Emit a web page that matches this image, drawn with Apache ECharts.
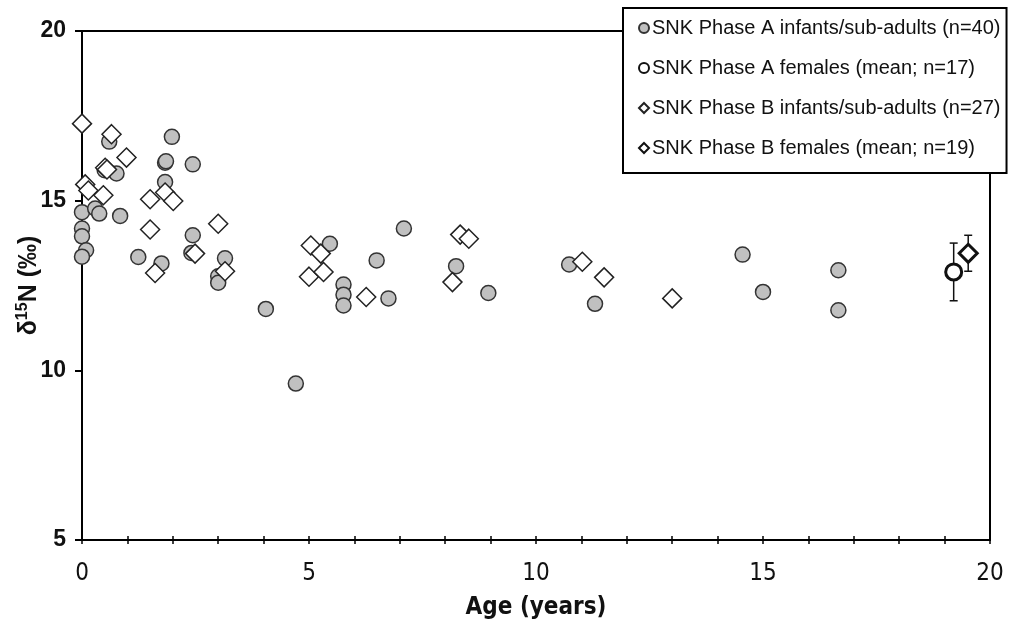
<!DOCTYPE html>
<html>
<head>
<meta charset="utf-8">
<script src="https://cdn.jsdelivr.net/npm/echarts@6/dist/echarts.min.js"></script>
<style>html,body{margin:0;padding:0;background:#fff}#c{width:1011px;height:623px}</style>
</head>
<body>
<div id="c"></div>
<script>
// Phase A infants/sub-adults: [age, d15N]
const phaseA = [
  [0, 14.66], [0, 14.18], [0, 13.95], [0.09, 13.54], [0, 13.35],
  [0.29, 14.77], [0.38, 14.62], [0.84, 14.55],
  [0.6, 16.74], [0.76, 15.8], [1.24, 13.34], [1.75, 13.15],
  [1.98, 16.88], [1.83, 16.12], [1.85, 16.16], [2.44, 16.07], [1.83, 15.55],
  [2.44, 13.98], [2.41, 13.46], [3.15, 13.3], [3.0, 12.77], [3.0, 12.58],
  [5.46, 13.73], [7.09, 14.18], [6.49, 13.24], [5.76, 12.53], [5.76, 12.23], [5.76, 11.91],
  [6.75, 12.12], [4.05, 11.81], [4.71, 9.61],
  [8.24, 13.07], [8.95, 12.28], [10.73, 13.12], [11.3, 11.96],
  [14.55, 13.41], [15.0, 12.31], [16.66, 12.95], [16.66, 11.77], [0.5, 15.9]
];
// Phase B infants/sub-adults: [age, d15N]
const phaseB = [
  [0, 17.27], [0.65, 16.96], [0.98, 16.27], [0.51, 15.97], [0.55, 15.92],
  [0.07, 15.48], [0.14, 15.3], [0.47, 15.16], [1.5, 15.04], [1.5, 14.15], [1.61, 12.87],
  [1.83, 15.24], [2.01, 14.99], [3.0, 14.32], [2.49, 13.44], [3.15, 12.92],
  [5.04, 13.68], [5.26, 13.44], [5.0, 12.76], [5.32, 12.9], [6.26, 12.16],
  [8.33, 14.0], [8.52, 13.88], [8.16, 12.6], [11.02, 13.2], [11.5, 12.74], [13.0, 12.12]
];
// Female means: [age, mean, sd]
const femalesA = [[19.2, 12.9, 0.85]];
const femalesB = [[19.52, 13.45, 0.53]];

const xTicks = [0, 5, 10, 15, 20];
const yTicks = [5, 10, 15, 20];

const names = [
  'SNK Phase A infants/sub-adults (n=40)',
  'SNK Phase A females (mean; n=17)',
  'SNK Phase B infants/sub-adults (n=27)',
  'SNK Phase B females (mean; n=19)'
];

const chart = echarts.init(document.getElementById('c'), null, {renderer: 'canvas'});

function errRender(params, api) {
  const x = api.value(0), m = api.value(1), s = api.value(2);
  const top = api.coord([x, m + s]);
  const bot = api.coord([x, m - s]);
  const w = 4;
  const st = {stroke: '#111', lineWidth: 1.5};
  return {
    type: 'group',
    children: [
      {type: 'line', shape: {x1: top[0], y1: top[1], x2: bot[0], y2: bot[1]}, style: st},
      {type: 'line', shape: {x1: top[0]-w, y1: top[1], x2: top[0]+w, y2: top[1]}, style: st},
      {type: 'line', shape: {x1: bot[0]-w, y1: bot[1], x2: bot[0]+w, y2: bot[1]}, style: st}
    ]
  };
}

const axisFont = 'DejaVu Sans Condensed, Liberation Sans, Arial, sans-serif';
const mainFont = 'Liberation Sans, Arial, sans-serif';

chart.setOption({
  backgroundColor: '#fff',
  animation: false,
  grid: {left: 82, right: 21, top: 31, bottom: 83, show: true, borderColor: '#000', borderWidth: 2,
    backgroundColor: 'transparent', containLabel: false, outerBoundsMode: 'none'},
  legend: {
    orient: 'vertical', left: 623, top: 8,
    padding: [9, 6, 14, 15],
    itemGap: 18, itemWidth: 10, itemHeight: 10,
    backgroundColor: '#fff', borderColor: '#000', borderWidth: 2,
    textStyle: {fontFamily: mainFont, fontSize: 20, lineHeight: 22, color: '#111', padding: [0,0,0,-2]},
    data: names
  },
  xAxis: [{
    type: 'value', min: 0, max: 20, interval: 1,
    name: 'Age (years)', nameLocation: 'middle', nameGap: 56, nameMoveOverlap: false,
    nameTextStyle: {fontFamily: axisFont, fontSize: 24, fontWeight: 'bold', color: '#111'},
    axisLine: {show: true, onZero: false, lineStyle: {color: '#000', width: 2}},
    axisTick: {show: true, length: 4, lineStyle: {color: '#000', width: 1.5}},
    axisLabel: {fontFamily: axisFont, fontSize: 24, color: '#111', margin: 22,
      formatter: v => xTicks.indexOf(v) >= 0 ? String(v) : ''},
    splitLine: {show: false}
  }, {
    type: 'value', min: 0, max: 20, interval: 1, position: 'bottom',
    axisLine: {show: false},
    axisTick: {show: true, inside: true, length: 4, lineStyle: {color: '#000', width: 1.5}},
    axisLabel: {show: false}, splitLine: {show: false}
  }],
  yAxis: {
    type: 'value', min: 5, max: 20, interval: 5,
    name: '{a|δ}{s|15}{a|N (‰)}', nameLocation: 'middle', nameGap: 38, nameMoveOverlap: false,
    nameTextStyle: {
      rich: {
        a: {fontFamily: mainFont, fontSize: 25, fontWeight: 'bold', color: '#111'},
        s: {fontFamily: mainFont, fontSize: 16, fontWeight: 'bold', color: '#111', padding: [0, 0, 13, 0]}
      }
    },
    axisLine: {show: true, lineStyle: {color: '#000', width: 2}},
    axisTick: {show: true, length: 7, lineStyle: {color: '#000', width: 2}},
    axisLabel: {fontFamily: mainFont, fontSize: 23, fontWeight: 'bold', color: '#111', margin: 16},
    splitLine: {show: false}
  },
  series: [
    {
      name: names[0], type: 'scatter', symbol: 'circle', symbolSize: 15, z: 3,
      itemStyle: {color: '#c0c0c0', borderColor: '#333', borderWidth: 1.5, opacity: 1},
      data: phaseA
    },
    {
      name: names[2], type: 'scatter', symbol: 'diamond', symbolSize: [19, 19], z: 4,
      itemStyle: {color: '#fff', borderColor: '#222', borderWidth: 1.5, opacity: 1},
      data: phaseB
    },
    {
      type: 'custom', renderItem: errRender, z: 2,
      encode: {x: 0, y: 1}, data: femalesA.concat(femalesB), silent: true
    },
    {
      name: names[1], type: 'scatter', symbol: 'circle', symbolSize: 16, z: 5,
      itemStyle: {color: '#fff', borderColor: '#111', borderWidth: 3, opacity: 1},
      data: femalesA.map(d => [d[0], d[1]])
    },
    {
      name: names[3], type: 'scatter', symbol: 'diamond', symbolSize: [18, 18], z: 5,
      itemStyle: {color: '#fff', borderColor: '#111', borderWidth: 3, opacity: 1},
      data: femalesB.map(d => [d[0], d[1]])
    }
  ]
});
</script>
</body>
</html>
